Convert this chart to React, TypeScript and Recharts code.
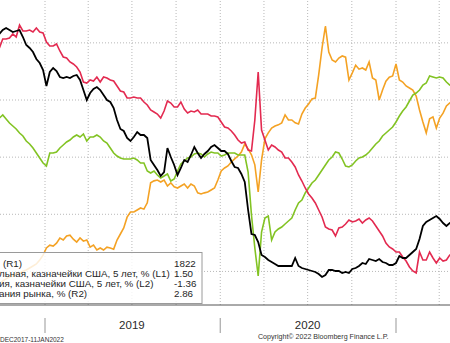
import React from "react";
import { LineChart, Line, XAxis, YAxis, ReferenceLine } from "recharts";

// Weekly observation dates (Fridays)
const dates = [
  "2018-09-28","2018-10-05","2018-10-12","2018-10-19","2018-10-26","2018-11-02","2018-11-09","2018-11-16","2018-11-23","2018-11-30",
  "2018-12-07","2018-12-14","2018-12-21","2018-12-28",
  "2019-01-04","2019-01-11","2019-01-18","2019-01-25","2019-02-01","2019-02-08","2019-02-15","2019-02-22",
  "2019-03-01","2019-03-08","2019-03-15","2019-03-22","2019-03-29","2019-04-05","2019-04-12","2019-04-19","2019-04-26",
  "2019-05-03","2019-05-10","2019-05-17","2019-05-24","2019-05-31","2019-06-07","2019-06-14","2019-06-21","2019-06-28",
  "2019-07-05","2019-07-12","2019-07-19","2019-07-26","2019-08-02","2019-08-09","2019-08-16","2019-08-23","2019-08-30",
  "2019-09-06","2019-09-13","2019-09-20","2019-09-27","2019-10-04","2019-10-11","2019-10-18","2019-10-25",
  "2019-11-01","2019-11-08","2019-11-15","2019-11-22","2019-11-29","2019-12-06","2019-12-13","2019-12-20","2019-12-27",
  "2020-01-03","2020-01-10","2020-01-17","2020-01-24","2020-01-31","2020-02-07","2020-02-14","2020-02-21","2020-02-28",
  "2020-03-06","2020-03-13","2020-03-20","2020-03-27","2020-04-03","2020-04-10","2020-04-17","2020-04-24",
  "2020-05-01","2020-05-08","2020-05-15","2020-05-22","2020-05-29","2020-06-05","2020-06-12","2020-06-19","2020-06-26",
  "2020-07-03","2020-07-10","2020-07-17","2020-07-24","2020-07-31","2020-08-07","2020-08-14","2020-08-21","2020-08-28",
  "2020-09-04","2020-09-11","2020-09-18","2020-09-25","2020-10-02","2020-10-09","2020-10-16","2020-10-23","2020-10-30",
  "2020-11-06","2020-11-13","2020-11-20","2020-11-27","2020-12-04","2020-12-11","2020-12-18","2020-12-25",
  "2021-01-01","2021-01-08","2021-01-15","2021-01-22","2021-01-29","2021-02-05","2021-02-12","2021-02-19","2021-02-26",
  "2021-03-05","2021-03-12","2021-03-19","2021-03-26","2021-04-02","2021-04-09","2021-04-16","2021-04-23","2021-04-30",
];

// Gold, USD/oz (R1) - orange
const gold = [
  1156,1167,1174,1181,1184,1191,1194,1201,1205,1212,
  1219,1226,1240,1257,
  1282,1292,1289,1299,1317,1310,1324,1327,
  1313,1303,1317,1306,1310,1285,1292,1275,1282,
  1275,1285,1282,1278,1310,1331,1352,1390,1408,
  1408,1415,1422,1418,1440,1510,1517,1520,1513,
  1520,1499,1510,1496,1492,1499,1506,1492,
  1506,1499,1475,1471,1475,1478,1485,1492,1520,
  1552,1562,1569,1583,1594,1604,1618,1646,1629,
  1608,1573,1478,1590,1664,1685,1702,1709,
  1713,1720,1748,1730,1730,1720,1716,1751,1772,
  1786,1804,1807,1888,1982,2059,1968,1940,1933,
  1947,1954,1950,1870,1895,1922,1908,1912,1905,
  1933,1877,1870,1800,1835,1866,1880,1884,
  1926,1870,1863,1849,1842,1835,1814,1765,1723,
  1685,1734,1741,1702,1737,1754,1779,1790,1793,
];

// Nominal 5Y Treasury yield, % (L1) - black
const nominal5y = [
  2.96,3.00,3.02,3.00,2.98,2.99,3.00,2.93,2.85,2.82,
  2.78,2.71,2.67,2.60,
  2.44,2.58,2.62,2.59,2.53,2.52,2.53,2.52,
  2.54,2.55,2.50,2.40,2.30,2.37,2.41,2.43,2.40,
  2.35,2.30,2.28,2.22,2.10,2.01,1.99,1.92,1.89,
  1.93,1.98,1.95,1.95,1.92,1.70,1.65,1.60,1.54,
  1.58,1.82,1.73,1.65,1.55,1.62,1.70,1.68,
  1.75,1.83,1.77,1.72,1.76,1.79,1.83,1.85,1.82,
  1.79,1.79,1.76,1.69,1.63,1.62,1.56,1.48,1.20,
  0.96,0.95,0.88,0.75,0.73,0.70,0.68,0.66,
  0.64,0.64,0.64,0.64,0.64,0.72,0.64,0.62,0.61,
  0.60,0.59,0.58,0.56,0.53,0.55,0.60,0.60,0.59,
  0.59,0.57,0.58,0.57,0.61,0.62,0.64,0.67,0.66,
  0.71,0.70,0.69,0.71,0.68,0.67,0.65,0.65,
  0.67,0.74,0.72,0.72,0.75,0.78,0.81,0.91,1.04,
  1.08,1.10,1.12,1.14,1.11,1.07,1.04,1.07,1.08,
];

// Real 5Y Treasury yield, % (L2) - red
const real5y = [
  0.92,1.01,1.01,1.02,1.06,1.03,1.15,1.09,1.09,1.10,
  1.08,1.12,1.08,1.07,
  0.98,0.94,0.94,0.96,0.89,0.83,0.82,0.78,
  0.76,0.73,0.68,0.58,0.57,0.60,0.59,0.63,0.58,
  0.63,0.62,0.60,0.59,0.54,0.49,0.48,0.42,0.42,
  0.43,0.42,0.42,0.38,0.35,0.30,0.28,0.26,0.22,
  0.29,0.39,0.37,0.33,0.33,0.38,0.31,0.27,
  0.29,0.28,0.30,0.26,0.26,0.26,0.24,0.24,0.23,
  0.18,0.13,0.12,0.09,0.05,0.00,-0.03,-0.02,-0.10,
  -0.11,0.20,0.68,0.10,0.00,-0.10,-0.05,-0.07,
  -0.10,-0.12,-0.18,-0.18,-0.22,-0.27,-0.35,-0.41,-0.48,
  -0.54,-0.58,-0.63,-0.70,-0.77,-0.87,-0.89,-0.90,-0.96,
  -0.88,-0.87,-0.84,-0.80,-0.82,-0.81,-0.79,-0.83,-0.80,
  -0.78,-0.81,-0.86,-0.91,-0.96,-1.03,-1.07,-1.09,
  -1.12,-1.12,-1.17,-1.21,-1.27,-1.31,-1.33,-1.12,-1.20,
  -1.20,-1.12,-1.18,-1.23,-1.18,-1.21,-1.20,-1.15,-1.15,
];

// Market inflation expectations (5Y breakeven), % (R2) - green
const breakeven = [
  1.97,2.00,1.96,1.92,1.89,1.86,1.82,1.79,1.74,1.71,
  1.67,1.62,1.57,1.52,
  1.49,1.62,1.62,1.63,1.67,1.70,1.73,1.75,
  1.78,1.80,1.78,1.81,1.74,1.78,1.78,1.80,1.78,
  1.74,1.72,1.67,1.62,1.59,1.57,1.56,1.56,1.56,
  1.57,1.55,1.52,1.52,1.44,1.42,1.44,1.40,1.37,
  1.39,1.41,1.34,1.36,1.44,1.51,1.54,1.57,
  1.58,1.61,1.62,1.61,1.58,1.61,1.63,1.62,1.62,
  1.59,1.60,1.62,1.62,1.62,1.60,1.60,1.60,1.43,
  1.00,0.67,0.39,0.83,0.97,0.99,0.75,0.83,
  0.86,0.88,0.91,0.94,0.97,1.05,1.12,1.15,1.22,
  1.27,1.32,1.35,1.40,1.45,1.50,1.55,1.58,1.63,
  1.62,1.56,1.49,1.48,1.50,1.54,1.57,1.58,1.60,
  1.63,1.67,1.71,1.74,1.79,1.82,1.85,1.88,
  1.93,1.99,2.04,2.08,2.14,2.20,2.22,2.25,2.30,
  2.32,2.39,2.38,2.37,2.38,2.37,2.33,2.30,2.31,
];

const legendLabels = [
  "(R1)",
  "льная, казначейки США, 5 лет, % (L1)",
  "ия, казначейки США, 5 лет, % (L2)",
  "ания рынка, % (R2)",
];
const legendValues = ["1822", "1.50", "-1.36", "2.86"];
const yearLabels = ["2019", "2020"];
const yearMidDates = ["2019-07-01", "2020-07-01"];
const yearStartDates = ["2019-01-01", "2020-01-01", "2021-01-01"];
const quarterDates = [
  "2019-01-01","2019-04-01","2019-07-01","2019-10-01",
  "2020-01-01","2020-04-01","2020-07-01","2020-10-01",
  "2021-01-01","2021-04-01",
];
const monthDates = [
  "2018-10-01","2018-11-01","2018-12-01",
  "2019-01-01","2019-02-01","2019-03-01","2019-04-01","2019-05-01","2019-06-01",
  "2019-07-01","2019-08-01","2019-09-01","2019-10-01","2019-11-01","2019-12-01",
  "2020-01-01","2020-02-01","2020-03-01","2020-04-01","2020-05-01","2020-06-01",
  "2020-07-01","2020-08-01","2020-09-01","2020-10-01","2020-11-01","2020-12-01",
  "2021-01-01","2021-02-01","2021-03-01","2021-04-01",
];
const goldGrid = [1200, 1400, 1600, 1800, 2000];
const footerRange = "DEC2017-11JAN2022";
const footerCopyright = "Copyright\u00A9 2022 Bloomberg Finance L.P.";

const ts = (d: string) => Date.parse(d + "T00:00:00Z");
const DAY = 86400000;
// visible window: crop of a larger chart
const Y2019 = ts("2019-01-01");
const PX_PER_DAY = 351 / 731;
const T0 = Y2019 - (45 / PX_PER_DAY) * DAY;
const T1 = Y2019 + (405 / PX_PER_DAY) * DAY;

const mk = (vals: number[]) => dates.map((d, i) => ({ t: ts(d), v: vals[i] }));
const goldData = mk(gold);
const nomData = mk(nominal5y);
const realData = mk(real5y);
const beData = mk(breakeven);

const yearTicks = [...yearStartDates, ...yearMidDates].map(ts).sort((a, b) => a - b);

const YearTick = (props: any) => {
  const { x, y, payload } = props;
  const v = payload.value;
  const midIdx = yearMidDates.map(ts).indexOf(v);
  if (midIdx >= 0) {
    return (
      <text x={x} y={y + 9} textAnchor="middle" dominantBaseline="central" fontSize={11.5} fill="#2a2a2a"
        fontFamily="'Liberation Sans', Arial, sans-serif">
        {yearLabels[midIdx]}
      </text>
    );
  }
  return <line x1={x} x2={x} y1={y + 2} y2={y + 17} stroke="#a8a8a8" strokeWidth={1.2} />;
};

export default function App() {
  const font = "'Liberation Sans', Arial, sans-serif";
  const grid = { stroke: "#b8b8b8", strokeDasharray: "1 2", strokeWidth: 1 };
  return (
    <div style={{ position: "absolute", left: 0, top: 0, width: 450, height: 343, background: "#fff", overflow: "hidden", fontFamily: font }}>
      <LineChart width={450} height={343} margin={{ top: 0, right: 0, bottom: 0, left: 0 }}>
        <XAxis xAxisId="m" type="number" dataKey="t" domain={[T0, T1]} allowDataOverflow
          ticks={monthDates.map(ts)} tick={false} tickSize={3} height={11}
          axisLine={{ stroke: "#555", strokeWidth: 1 }} tickLine={{ stroke: "#888" }} />
        <XAxis xAxisId="y" type="number" dataKey="t" domain={[T0, T1]} allowDataOverflow
          ticks={yearTicks} tick={<YearTick />} tickSize={0} tickMargin={0} height={27}
          axisLine={false} tickLine={false} interval={0} />
        <YAxis yAxisId="gold" hide domain={[1082.5, 2150]} allowDataOverflow />
        <YAxis yAxisId="l1" hide domain={[0.25, 3.3]} allowDataOverflow />
        <YAxis yAxisId="l2" hide domain={[-1.65, 1.4]} allowDataOverflow />
        <YAxis yAxisId="r2" hide domain={[0.1, 3.15]} allowDataOverflow />
        {goldGrid.map((g) => (
          <ReferenceLine key={"h" + g} xAxisId="m" yAxisId="gold" y={g} {...grid} />
        ))}
        {quarterDates.map((q) => (
          <ReferenceLine key={"v" + q} xAxisId="m" yAxisId="gold" x={ts(q)} {...grid} />
        ))}
        <Line xAxisId="m" yAxisId="gold" data={goldData} dataKey="v" stroke="#f4a224" strokeWidth={1.6} dot={false} isAnimationActive={false} />
        <Line xAxisId="m" yAxisId="r2" data={beData} dataKey="v" stroke="#82c323" strokeWidth={1.6} dot={false} isAnimationActive={false} />
        <Line xAxisId="m" yAxisId="l2" data={realData} dataKey="v" stroke="#e32a50" strokeWidth={1.6} dot={false} isAnimationActive={false} />
        <Line xAxisId="m" yAxisId="l1" data={nomData} dataKey="v" stroke="#000" strokeWidth={1.8} dot={false} isAnimationActive={false} />
      </LineChart>
      <svg width={450} height={343} style={{ position: "absolute", left: 0, top: 0, pointerEvents: "none" }}>
        <rect x={-2} y={252.5} width={204} height={51} fill="#fff" fillOpacity={0.82} stroke="#9a9a9a" strokeWidth={1} />
        {legendLabels.map((l, i) => (
          <text key={"l" + i} x={i === 0 ? 3 : -1} y={263 + i * 10.3} dominantBaseline="central" fontSize={9.8} fill="#1e1e1e" fontFamily={font}>{l}</text>
        ))}
        {legendValues.map((v, i) => (
          <text key={"v" + i} x={174} y={263 + i * 10.3} dominantBaseline="central" fontSize={9.8} fill="#1e1e1e" fontFamily={font}>{v}</text>
        ))}
        <text x={0} y={339.5} dominantBaseline="central" fontSize={6.5} fill="#333" fontFamily={font}>{footerRange}</text>
        <text x={258} y={336.5} dominantBaseline="central" fontSize={7.1} fill="#333" fontFamily={font}>{footerCopyright}</text>
      </svg>
    </div>
  );
}
